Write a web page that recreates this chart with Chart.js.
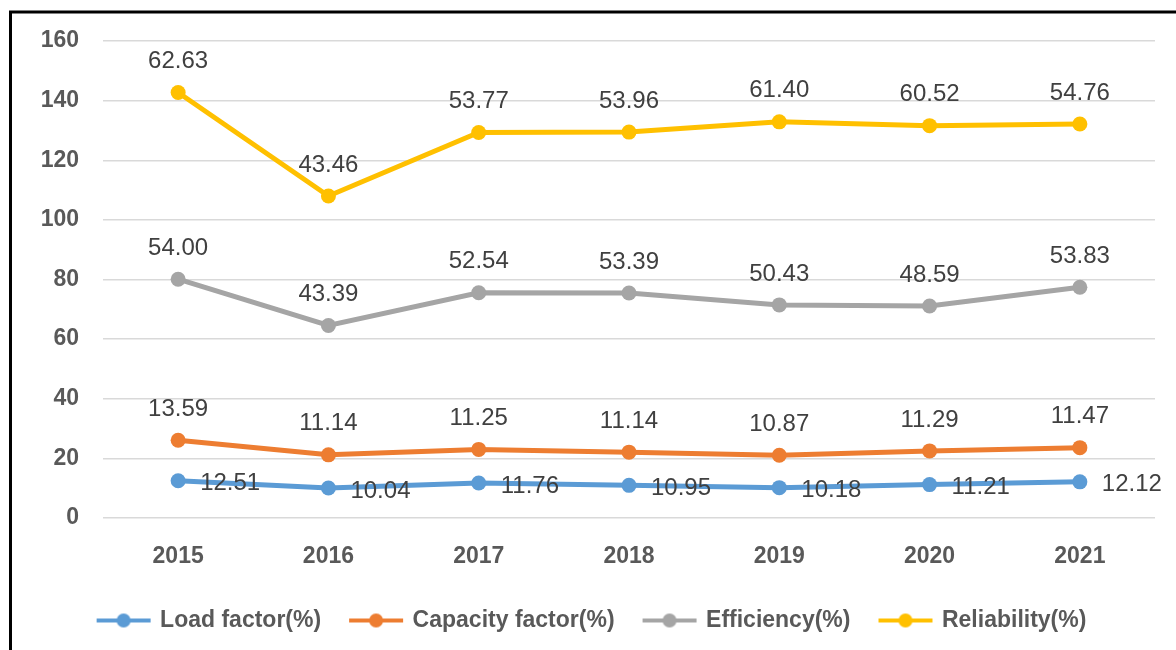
<!DOCTYPE html>
<html>
<head>
<meta charset="utf-8">
<script src="https://cdn.jsdelivr.net/npm/chart.js@4"></script>
<style>
  body { margin: 0; background: #fff; }
  #wrap { width: 1176px; height: 650px; }
</style>
</head>
<body>
<div id="wrap"><canvas id="js--chart"></canvas></div>
<script>
const years = ["2015", "2016", "2017", "2018", "2019", "2020", "2021"];
const loadFactor = [12.51, 10.04, 11.76, 10.95, 10.18, 11.21, 12.12];
const capacityFactor = [13.59, 11.14, 11.25, 11.14, 10.87, 11.29, 11.47];
const efficiency = [54.00, 43.39, 52.54, 53.39, 50.43, 48.59, 53.83];
const reliability = [62.63, 43.46, 53.77, 53.96, 61.40, 60.52, 54.76];
const yTicks = [0, 20, 40, 60, 80, 100, 120, 140, 160];

const names = ["Load factor(%)", "Capacity factor(%)", "Efficiency(%)", "Reliability(%)"];
const colors = ["#5B9BD5", "#ED7D31", "#A5A5A5", "#FFC000"];
const series = [loadFactor, capacityFactor, efficiency, reliability];

const FONT = "'Liberation Sans', Arial, sans-serif";

// little line + dot marker for the legend
function legendMarker(color) {
    const c = document.createElement("canvas");
    c.width = 56;
    c.height = 16;
    const g = c.getContext("2d");
    g.strokeStyle = color;
    g.lineWidth = 4;
    g.beginPath();
    g.moveTo(1, 8);
    g.lineTo(55, 8);
    g.stroke();
    g.fillStyle = color;
    g.beginPath();
    g.arc(28, 8, 7, 0, Math.PI * 2);
    g.fill();
    return c;
}

const valueLabels = {
    id: "valueLabels",
    afterDatasetsDraw(chart) {
        const ctx = chart.ctx;
        ctx.save();
        ctx.font = "24px " + FONT;
        ctx.fillStyle = "#404040";
        ctx.textBaseline = "middle";
        chart.data.datasets.forEach((ds, i) => {
            chart.getDatasetMeta(i).data.forEach((pt, j) => {
                const txt = ds.data[j].toFixed(2);
                if (i === 0) {
                    ctx.textAlign = "left";
                    ctx.fillText(txt, pt.x + 22, pt.y + 3);
                } else {
                    ctx.textAlign = "center";
                    ctx.fillText(txt, pt.x, pt.y - 31);
                }
            });
        });
        ctx.restore();
    }
};

const frame = {
    id: "frame",
    beforeDraw(chart) {
        const ctx = chart.ctx;
        ctx.save();
        ctx.strokeStyle = "#000";
        ctx.lineWidth = 3;
        ctx.beginPath();
        ctx.moveTo(10.5, 650);
        ctx.lineTo(10.5, 12);
        ctx.lineTo(1176, 12);
        ctx.stroke();
        ctx.restore();
    }
};

const data = {
    labels: years,
    datasets: series.map((s, i) => ({
        label: names[i],
        data: s,
        borderColor: colors[i],
        backgroundColor: colors[i],
        borderWidth: 5,
        pointRadius: 7.5,
        pointHoverRadius: 7.5,
        pointBorderWidth: 0,
        fill: false,
        tension: 0
    }))
};

const config = {
    type: "line",
    data: data,
    plugins: [frame, valueLabels],
    options: {
        responsive: true,
        maintainAspectRatio: false,
        animation: false,
        layout: { padding: { left: 30, right: 21, top: 41, bottom: 8 } },
        scales: {
            x: {
                offset: true,
                grid: { display: false, drawTicks: false },
                border: { display: false },
                ticks: {
                    padding: 25,
                    color: "#595959",
                    font: { family: FONT, size: 23, weight: "bold" }
                },
                afterFit(scale) { scale.height = 61; }
            },
            y: {
                stacked: true,
                min: 0,
                max: 160,
                afterBuildTicks(scale) { scale.ticks = yTicks.map(v => ({ value: v })); },
                grid: { color: "#D9D9D9", lineWidth: 1.5, drawTicks: false },
                border: { display: false },
                ticks: {
                    padding: 24,
                    color: "#595959",
                    font: { family: FONT, size: 23, weight: "bold" }
                },
                afterFit(scale) { scale.width = 73; }
            }
        },
        plugins: {
            tooltip: { enabled: false },
            legend: {
                position: "bottom",
                labels: {
                    usePointStyle: true,
                    pointStyleWidth: 50,
                    padding: 30,
                    color: "#595959",
                    font: { family: FONT, size: 23, weight: "bold" },
                    generateLabels(chart) {
                        return chart.data.datasets.map((ds, i) => ({
                            text: ds.label,
                            fillStyle: ds.borderColor,
                            strokeStyle: ds.borderColor,
                            lineWidth: 0,
                            pointStyle: legendMarker(ds.borderColor),
                            fontColor: "#595959",
                            datasetIndex: i,
                            hidden: false
                        }));
                    }
                }
            }
        }
    }
};

new Chart(document.getElementById("js--chart"), config);
</script>
</body>
</html>
